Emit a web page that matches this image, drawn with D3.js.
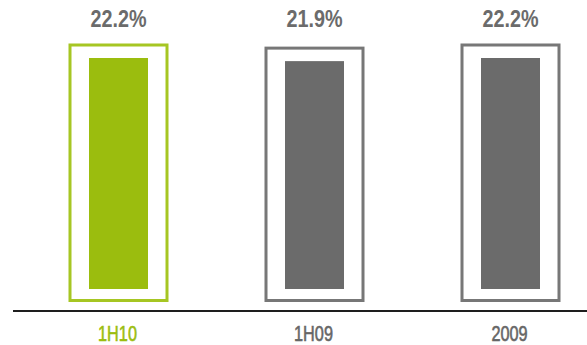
<!DOCTYPE html>
<html>
<head>
<meta charset="utf-8">
<script src="https://d3js.org/d3.v7.min.js"></script>
<style>
  body { margin: 0; background: #fff; }
  svg { display: block; }
</style>
</head>
<body>
<script>
var periods = ["1H10", "1H09", "2009"]
var values = [22.2, 21.9, 22.2]
var highlight = ["1H10"]

var width = 587
var height = 345

var green = "#9bbd0e"
var gray = "#6b6b6b"

var svg = d3.select("body")
            .append("svg")
            .attr("width", width)
            .attr("height", height)

var xScale = d3.scalePoint()
               .domain(periods)
               .range([118.5, 510.5])

var yScale = d3.scaleLinear()
               .domain([0, 22.2])
               .range([289, 58])

var barW = 59
var isHi = function(p) { return highlight.indexOf(p) >= 0 }

var data = periods.map(function(p, i) {
  return { period: p, value: values[i] }
})

// outline frame around each bar
svg.selectAll("rect.frame")
   .data(data)
   .enter()
   .append("rect")
   .attr("class", "frame")
   .attr("x", function(d) { return xScale(d.period) - 48.5 })
   .attr("y", function(d) { return yScale(d.value) - 13 })
   .attr("width", 97)
   .attr("height", function(d) { return 300.5 - (yScale(d.value) - 13) })
   .attr("fill", "none")
   .attr("stroke", function(d) { return isHi(d.period) ? "#a6c623" : "#777777" })
   .attr("stroke-width", 3)

//bars
svg.selectAll("rect.bar")
   .data(data)
   .enter()
   .append("rect")
   .attr("class", "bar")
   .attr("x", function(d) { return xScale(d.period) - barW / 2 })
   .attr("y", function(d) { return yScale(d.value) })
   .attr("width", barW)
   .attr("height", function(d) { return yScale(0) - yScale(d.value) })
   .attr("fill", function(d) { return isHi(d.period) ? green : gray })

// value labels on top (condensed by a horizontal squeeze)
svg.selectAll("text.value")
   .data(data)
   .enter()
   .append("text")
   .attr("class", "value")
   .attr("transform", function(d) { return "translate(" + xScale(d.period) + ",26.5) scale(0.86,1)" })
   .attr("text-anchor", "middle")
   .attr("font-family", "'Liberation Sans', Arial, sans-serif")
   .attr("font-weight", "bold")
   .attr("font-size", 23)
   .attr("fill", "#6b6b6b")
   .text(function(d) { return d.value.toFixed(1) + "%" })

// baseline
svg.append("line")
   .attr("x1", 13)
   .attr("x2", width)
   .attr("y1", 311)
   .attr("y2", 311)
   .attr("stroke", "#1e1e1e")
   .attr("stroke-width", 2)

// period labels
svg.selectAll("text.period")
   .data(data)
   .enter()
   .append("text")
   .attr("class", "period")
   .attr("transform", function(d) { return "translate(" + (xScale(d.period) - 1) + ",341) scale(0.74,1)" })
   .attr("text-anchor", "middle")
   .attr("font-family", "'Liberation Sans', Arial, sans-serif")
   .attr("font-size", 22)
   .attr("fill", function(d) { return isHi(d.period) ? green : "#666666" })
   .attr("stroke", function(d) { return isHi(d.period) ? green : "#666666" })
   .attr("stroke-width", 0.6)
   .text(function(d) { return d.period })
</script>
</body>
</html>
